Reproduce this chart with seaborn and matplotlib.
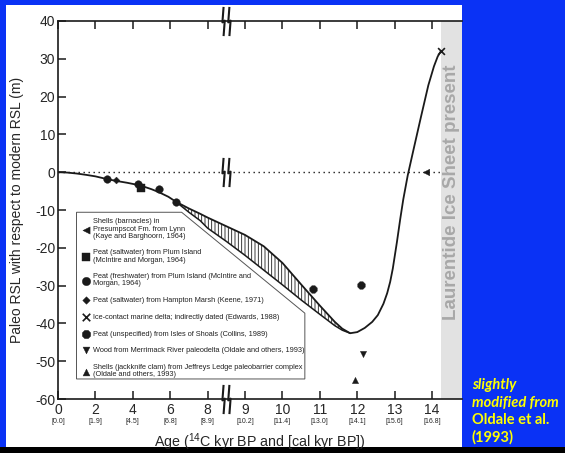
import numpy as np
import matplotlib
matplotlib.use('Agg')
import matplotlib.pyplot as plt
from matplotlib.patches import Rectangle, Polygon
from matplotlib.path import Path
import seaborn as sns

# ---- values (age in 14C kyr BP, RSL in m) ----
tick_ages = [0, 2, 4, 6, 8, 9, 10, 11, 12, 13, 14]
cal_labels = ['[0.0]', '[1.9]', '[4.5]', '[6.8]', '[8.9]', '[10.2]',
              '[11.4]', '[13.0]', '[14.1]', '[15.6]', '[16.8]']
rsl_ticks = [-60, -50, -40, -30, -20, -10, 0, 10, 20, 30, 40]

# main sea-level curve (upper edge of the hatched band in the middle)
curve_age = [0, 0.5, 1, 1.5, 2, 2.6, 3.1, 3.7, 4.4, 5.0, 5.4, 5.9, 6.3,
             7.0, 7.6, 8.0, 8.5, 9.0, 9.5, 10.0, 10.5, 11.0, 11.4, 11.6, 11.81,
             12.0, 12.2, 12.4, 12.55, 12.7, 12.8, 12.88, 12.95, 13.06, 13.15,
             13.23, 13.35, 13.5, 13.7, 13.9, 14.05, 14.15, 14.24]
curve_rsl = [0, -0.1, -0.35, -0.7, -1.1, -1.8, -2.3, -2.8, -3.5, -4.5, -5.3, -6.5, -7.8,
             -9.6, -11.0, -12.0, -14.3, -16.6, -19.6, -24.0, -29.7, -35.3, -39.6, -41.4, -42.6,
             -42.3, -41.2, -39.6, -37.8, -34.8, -32.0, -29.0, -25.5, -18.5, -12.3,
             -7.2, -0.8, 5.8, 14.5, 23.0, 28.0, 30.6, 32.1]

# lower edge of the hatched band
lower_age = [6.3, 7.0, 7.6, 8.0, 8.5, 9.0, 9.5, 10.0, 10.5, 11.0, 11.4, 11.6, 11.81]
lower_rsl = [-7.8, -10.6, -12.8, -14.8, -18.3, -22.0, -25.9, -29.8, -33.8, -37.6, -40.6, -41.8, -42.6]

# dated samples
barnacle_age, barnacle_rsl = [13.84], [0.0]
plum_salt_age, plum_salt_rsl = [4.45], [-4.3]
plum_fresh_age, plum_fresh_rsl = [2.64, 4.3, 5.4, 6.3], [-1.9, -3.1, -4.5, -8.0]
hampton_age, hampton_rsl = [3.1], [-2.1]
delta_age, delta_rsl = [14.24], [32.1]
shoals_age, shoals_rsl = [10.83, 12.09], [-31.0, -29.8]
wood_age, wood_rsl = [12.16], [-48.1]
jackknife_age, jackknife_rsl = [11.94], [-55.0]

ice_start = 14.25
x_max = 14.8

series = [
    (barnacle_age, barnacle_rsl, '<', 22,
     'Shells (barnacles) in\nPresumpscot Fm. from Lynn\n(Kaye and Barghoorn, 1964)'),
    (plum_salt_age, plum_salt_rsl, 's', 26,
     'Peat (saltwater) from Plum Island\n(McIntire and Morgan, 1964)'),
    (plum_fresh_age, plum_fresh_rsl, 'o', 30,
     'Peat (freshwater) from Plum Island (McIntire and\nMorgan, 1964)'),
    (hampton_age, hampton_rsl, 'D', 12,
     'Peat (saltwater) from Hampton Marsh (Keene, 1971)'),
    (delta_age, delta_rsl, 'x', 24,
     'Ice-contact marine delta; indirectly dated (Edwards, 1988)'),
    (shoals_age, shoals_rsl, '8', 34,
     'Peat (unspecified) from Isles of Shoals (Collins, 1989)'),
    (wood_age, wood_rsl, 'v', 20,
     'Wood from Merrimack River paleodelta (Oldale and others, 1993)'),
    (jackknife_age, jackknife_rsl, '^', 20,
     'Shells (jackknife clam) from Jeffreys Ledge paleobarrier complex\n(Oldale and others, 1993)'),
]


def fwd(x):
    x = np.asarray(x, dtype=float)
    return np.where(x <= 8, x / 2.0, x - 4.0)


def inv(u):
    u = np.asarray(u, dtype=float)
    return np.where(u <= 4, u * 2.0, u + 4.0)


sns.set_theme(style='white')
plt.rcParams['font.family'] = ['Liberation Sans', 'DejaVu Sans']
plt.rcParams['mathtext.fontset'] = 'custom'
plt.rcParams['mathtext.rm'] = 'Liberation Sans'
plt.rcParams['axes.unicode_minus'] = False
plt.rcParams['hatch.linewidth'] = 0.6

blue = '#0a32f5'
fig = plt.figure(figsize=(5.65, 4.53), dpi=100, facecolor=blue)
fig.patches.append(Rectangle((6 / 565, 6 / 453), 456 / 565, 442 / 453,
                             transform=fig.transFigure, facecolor='white',
                             edgecolor='none', zorder=-10))
fig.patches.append(Rectangle((0, 0), 1, 6 / 453, transform=fig.transFigure,
                             facecolor='black', edgecolor='none', zorder=-10))

ax = fig.add_axes([58 / 565, 54 / 453, 404 / 565, 378 / 453])
ax.set_facecolor('none')
ax.set_xscale('function', functions=(fwd, inv))
ax.set_xlim(0, x_max)
ax.set_ylim(-60, 40)

# ice sheet band
ax.axvspan(ice_start, x_max, color='#e2e2e2', lw=0, zorder=0)
ax.text((ice_start + x_max) / 2, 0.548, 'Laurentide Ice Sheet present',
        transform=ax.get_xaxis_transform(), rotation=90, ha='center',
        va='center', fontsize=13.5, fontweight='bold', color='#a8a8a8')

# zero line
ax.hlines(0, 0, ice_start, colors='k', linestyles=(0, (1, 2.6)), lw=1, zorder=1)

# hatched uncertainty band
up_age = [a for a in curve_age if lower_age[0] <= a <= lower_age[-1]]
up_rsl = [r for a, r in zip(curve_age, curve_rsl) if lower_age[0] <= a <= lower_age[-1]]
ax.fill(up_age + lower_age[::-1], up_rsl + lower_rsl[::-1], facecolor='white',
        edgecolor='k', hatch='|||||', lw=0, zorder=2)
sns.lineplot(x=lower_age, y=lower_rsl, sort=False, estimator=None,
             color='k', lw=1.1, ax=ax, zorder=3)
sns.lineplot(x=curve_age, y=curve_rsl, sort=False, estimator=None,
             color='k', lw=1.3, ax=ax, zorder=3)

# legend frame with cut corner
frame = Polygon([(0.0458, 0.494), (0.306, 0.494), (0.611, 0.227),
                 (0.611, 0.053), (0.0458, 0.053)], closed=True,
                transform=ax.transAxes, facecolor='white', edgecolor='#555555',
                lw=0.7, zorder=4)
ax.add_patch(frame)

for ages, rsl, mk, size, lab in series:
    if mk == 'x':
        sns.scatterplot(x=ages, y=rsl, marker=mk, s=size, color='k',
                        linewidth=1.2, ax=ax, label=lab, zorder=6, clip_on=False)
    else:
        sns.scatterplot(x=ages, y=rsl, marker=mk, s=size, color='k',
                        edgecolor='k', linewidth=0.3, ax=ax, label=lab, zorder=6)

leg = ax.legend(loc='upper left', bbox_to_anchor=(0.062, 0.478), frameon=False,
                fontsize=5.3, handlelength=0.8, handletextpad=0.6,
                labelspacing=1.3, borderpad=0, borderaxespad=0,
                scatterpoints=1, markerscale=1.1)
leg.set_zorder(5)
for t in leg.get_texts():
    t.set_linespacing(1.05)
    t.set_color('#222222')

# axis break symbols
bolt = Path([(-0.2, 1), (-0.28, -0.06), (-0.12, 0.06), (-0.2, -1),
             (0.2, 1), (0.12, -0.06), (0.28, 0.06), (0.2, -1)],
            [Path.MOVETO, Path.LINETO, Path.LINETO, Path.LINETO,
             Path.MOVETO, Path.LINETO, Path.LINETO, Path.LINETO])
for yb in (40, 0, -60):
    ax.plot([8.5], [yb], marker=bolt, markersize=21, color='k',
            markerfacecolor='none', mew=1.5, clip_on=False, zorder=7)

# ticks
ax.set_xticks(tick_ages)
ax.set_xticklabels([str(t) for t in tick_ages])
ax.set_xticks(tick_ages, minor=True)
ax.set_xticklabels(cal_labels, minor=True)
ax.xaxis.remove_overlapping_locs = False
ax.set_yticks(rsl_ticks)
ax.tick_params(axis='x', which='major', direction='in', length=6, width=1.1,
               top=True, bottom=True, labelsize=10, pad=3, color='k')
ax.tick_params(axis='x', which='minor', length=0, labelsize=5, pad=14,
               top=False)
ax.tick_params(axis='y', direction='in', length=6, width=1.1, labelsize=10,
               pad=2, left=True, color='k')

for side in ('left', 'bottom', 'top'):
    ax.spines[side].set_color('k')
    ax.spines[side].set_linewidth(1.2)
ax.spines['right'].set_visible(False)

ax.set_ylabel('Paleo RSL with respect to modern RSL (m)', fontsize=10, labelpad=8)
ax.set_xlabel(r'Age ($^{14}$C kyr BP and [cal kyr BP])', fontsize=10.3, labelpad=4)

fig.text(472 / 565, 0.130, 'slightly\nmodified from', color='#ffff00',
         fontsize=10.5, fontweight='bold', style='italic', family='Lato',
         va='center', ha='left', linespacing=1.3)
fig.text(472 / 565, 0.053, 'Oldale et al.\n(1993)', color='#ffff00',
         fontsize=10.5, fontweight='bold', family='Lato', va='center',
         ha='left', linespacing=1.3)

fig.savefig('out.png', dpi=100, facecolor=fig.get_facecolor())
